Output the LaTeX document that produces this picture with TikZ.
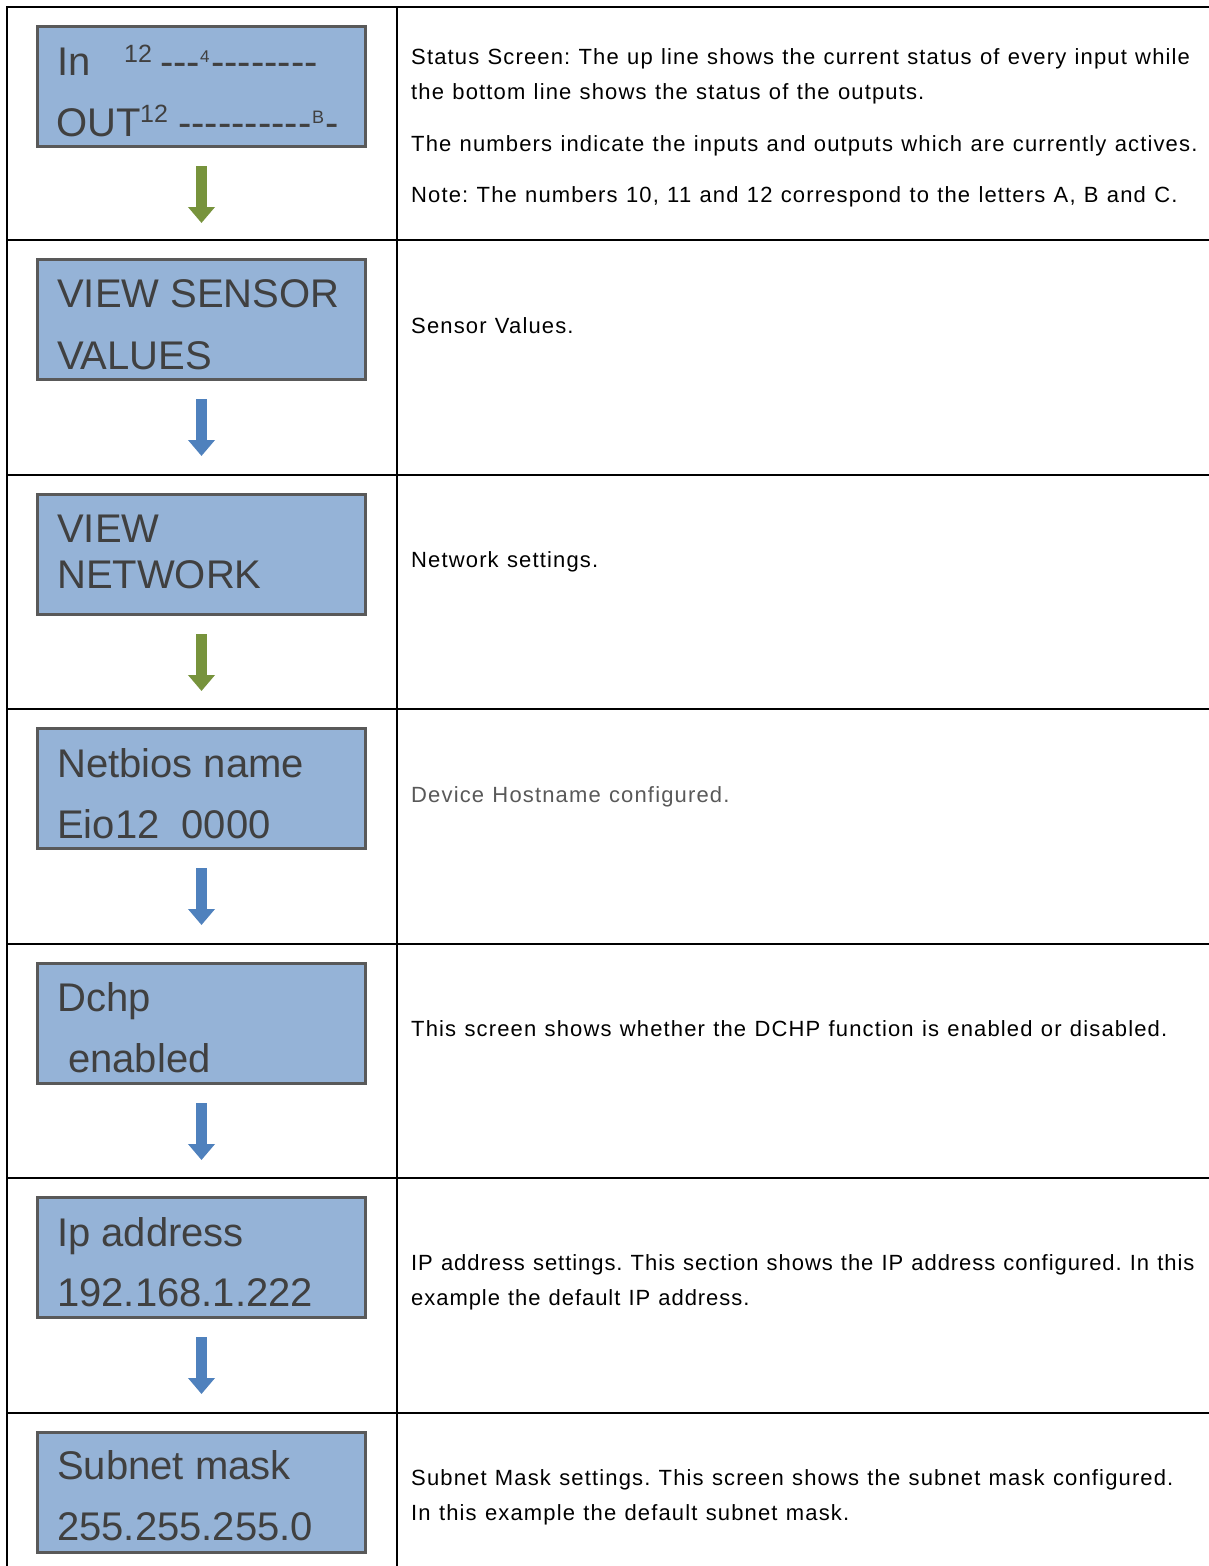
\documentclass[tikz,border=0pt]{standalone}
\usepackage{fontspec}
\setmainfont{Liberation Sans}
\newfontfamily\descfont[LetterSpace=5.2,WordSpace=1.15]{Liberation Sans}
\newfontfamily\descfontnarrow[LetterSpace=4.3,WordSpace=1.15]{Liberation Sans}
\usetikzlibrary{arrows.meta}
\definecolor{lcdfill}{HTML}{95B3D7}
\definecolor{lcdedge}{HTML}{595959}
\definecolor{lcdtext}{HTML}{404040}
\definecolor{arrgreen}{HTML}{77933C}
\definecolor{arrblue}{HTML}{4F81BD}
\definecolor{graytext}{HTML}{595959}
\frenchspacing
\tikzset{
  grid/.style={line width=2pt, draw=black},
  lcd/.style={draw=lcdedge, fill=lcdfill, line width=3pt, minimum width=328pt, minimum height=120pt, inner sep=0pt},
  lcdtxt/.style={anchor=base west, inner sep=0pt, text=lcdtext, font=\fontsize{40}{48}\selectfont},
  lcdsup/.style={anchor=base west, inner sep=0pt, text=lcdtext},
  desc/.style={anchor=base west, inner sep=0pt, text=black, font=\descfont\fontsize{22}{26}\selectfont},
  descnarrow/.style={desc, font=\descfontnarrow\fontsize{22}{26}\selectfont},
  flowarrow/.style={line width=11pt, -{Triangle[width=26pt,length=16pt]}},
}
\begin{document}
\begin{tikzpicture}[x=1pt,y=-1pt]
\useasboundingbox (0,0) rectangle (1209,1566);
\fill[white] (0,0) rectangle (1209,1566);
% table grid
\draw[grid] (7,1566) -- (7,7) -- (1209,7);
\draw[grid] (397,7) -- (397,1566);
\foreach \yy in {240,475,709,944,1178,1413} {\draw[grid] (7,\yy) -- (1209,\yy);}
% boxes
\node[lcd] (b1) at (201.5,86.5) {};
\node[lcd] (b2) at (201.5,319.5) {};
\node[lcd] (b3) at (201.5,554.5) {};
\node[lcd] (b4) at (201.5,788.5) {};
\node[lcd] (b5) at (201.5,1023.5) {};
\node[lcd] (b6) at (201.5,1257.5) {};
\node[lcd] (b7) at (201.5,1492.5) {};
% row 1 box text
\node[lcdtxt] (t1a) at (57,75) {In};
\node[lcdsup, font=\fontsize{25}{30}\selectfont] (t1s) at (124,62) {12};
\node[lcdtxt] (t1d) at (160,75) {-{}-{}-};
\node[lcdsup, font=\fontsize{17}{20}\selectfont] (t1f) at (200,62) {4};
\node[lcdtxt] (t1e) at (211,75) {-{}-{}-{}-{}-{}-{}-{}-};
\node[lcdtxt] (t1b) at (56,136) {OUT};
\node[lcdsup, font=\fontsize{25}{30}\selectfont] (t1t) at (140,122) {12};
\node[lcdtxt] (t1g) at (178,136) {-{}-{}-{}-{}-{}-{}-{}-{}-{}-};
\node[lcdsup, font=\fontsize{18}{22}\selectfont] (t1h) at (312,123) {B};
\node[lcdtxt] (t1i) at (325,136) {-};
% other box texts
\node[lcdtxt] (t2a) at (57,307) {VIEW SENSOR};
\node[lcdtxt] (t2b) at (57,369) {VALUES};
\node[lcdtxt] (t3a) at (57,542) {VIEW};
\node[lcdtxt] (t3b) at (57,588) {NETWORK};
\node[lcdtxt] (t4a) at (57,777) {Netbios name};
\node[lcdtxt] (t4b) at (57,838) {Eio12\ \ 0000};
\node[lcdtxt] (t5a) at (57,1011) {Dchp};
\node[lcdtxt] (t5b) at (68,1072) {enabled};
\node[lcdtxt] (t6a) at (57,1246) {Ip address};
\node[lcdtxt] (t6b) at (57,1306) {192.168.1.222};
\node[lcdtxt] (t7a) at (57,1479) {Subnet mask};
\node[lcdtxt] (t7b) at (57,1540) {255.255.255.0};
% arrows
\foreach \n/\top/\c in {1/7/arrgreen,2/240/arrblue,3/475/arrgreen,4/709/arrblue,5/944/arrblue,6/1178/arrblue} {
  \coordinate (a\n s) at (201.5,\top+159);
  \coordinate (a\n e) at (201.5,\top+216);
  \draw[flowarrow, draw=\c, fill=\c] (a\n s) -- (a\n e);
}
% descriptions
\node[desc] (d1a) at (411,64) {Status Screen: The up line shows the current status of every input while};
\node[desc] (d1b) at (411,99) {the bottom line shows the status of the outputs.};
\node[desc] (d1c) at (411,151) {The numbers indicate the inputs and outputs which are currently actives.};
\node[desc] (d1d) at (411,202) {Note: The numbers 10, 11 and 12 correspond to the letters A, B and C.};
\node[desc] (d2) at (411,333) {Sensor Values.};
\node[desc] (d3) at (411,567) {Network settings.};
\node[desc, text=graytext] (d4) at (411,802) {Device Hostname configured.};
\node[desc] (d5) at (411,1036) {This screen shows whether the DCHP function is enabled or disabled.};
\node[descnarrow] (d6a) at (411,1270) {IP address settings. This section shows the IP address configured. In this};
\node[descnarrow] (d6b) at (411,1305) {example the default IP address.};
\node[desc] (d7a) at (411,1485) {Subnet Mask settings. This screen shows the subnet mask configured.};
\node[desc] (d7b) at (411,1520) {In this example the default subnet mask.};
\end{tikzpicture}
\end{document}
